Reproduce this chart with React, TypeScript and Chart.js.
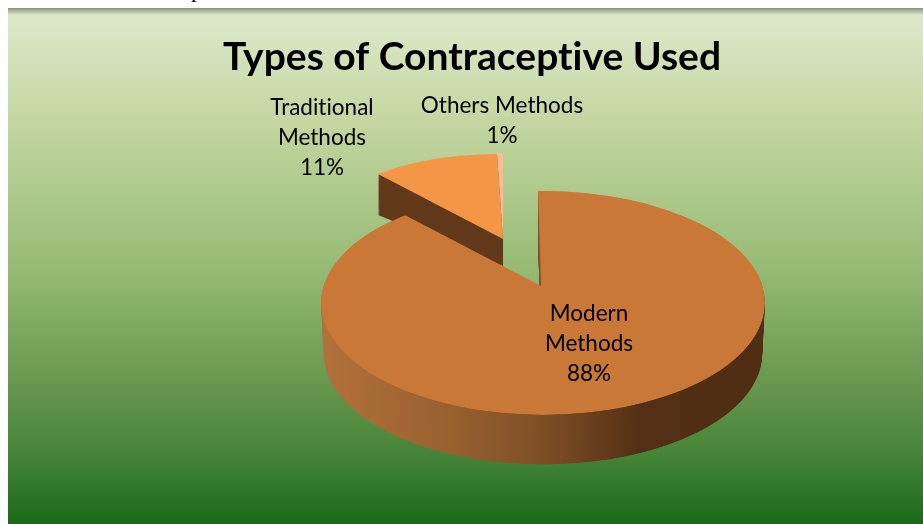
import React, { useEffect, useRef } from "react";
import { Chart, registerables } from "chart.js";

Chart.register(...registerables);

const categories = ["Traditional Methods", "Others Methods", "Modern Methods"];
const categoryLines = [["Traditional", "Methods"], ["Others Methods"], ["Modern", "Methods"]];
const percentages = [11, 1, 88];
const sliceColors = ["#F59647", "#FBBD98", "#C97837"];
const chartTitle = "Types of Contraceptive Used";

const W = 923;
const H = 524;
const SQUASH = 112 / 222;
const FONT = "Lato, Carlito, 'Open Sans', sans-serif";

const sideOpts = (fill: any) => ({
  offset: 0, spacing: 0, borderWidth: 0, backgroundColor: fill, borderColor: fill,
  borderAlign: "center", borderJoinStyle: "round", borderRadius: 0, circular: true,
  selfJoin: false, borderDash: [], borderDashOffset: 0,
});

function drawWith(arc: any, ctx: CanvasRenderingContext2D, fill: any) {
  const saved = arc.options;
  arc.options = sideOpts(fill);
  arc.draw(ctx);
  arc.options = saved;
}

const pie3d = {
  id: "pie3d",
  beforeDraw(chart: any) {
    const ctx: CanvasRenderingContext2D = chart.ctx;
    ctx.save();
    ctx.fillStyle = "#ffffff";
    ctx.fillRect(0, 0, W, H);
    const g = ctx.createLinearGradient(0, 9, 0, H);
    g.addColorStop(0, "#DFE9CE");
    g.addColorStop(0.2, "#C6D8A4");
    g.addColorStop(0.5, "#97BB74");
    g.addColorStop(0.72, "#69984F");
    g.addColorStop(0.86, "#478538");
    g.addColorStop(1, "#1B6A17");
    ctx.fillStyle = g;
    ctx.fillRect(8, 8, W - 8, H - 8);
    const s = ctx.createLinearGradient(0, 8, 0, 15);
    s.addColorStop(0, "rgba(90,100,80,0.65)");
    s.addColorStop(1, "rgba(90,100,80,0)");
    ctx.fillStyle = s;
    ctx.fillRect(8, 8, W - 8, 7);
    ctx.fillStyle = "#000";
    ctx.font = "24px 'Liberation Serif', serif";
    ctx.textAlign = "center";
    ctx.textBaseline = "alphabetic";
    ctx.fillText("p", 197, -3);
    ctx.restore();
  },
  beforeDatasetsDraw(chart: any) {
    const ctx: CanvasRenderingContext2D = chart.ctx;
    const arcs = chart.getDatasetMeta(0).data;
    const cx = arcs[0].x;
    const cy = arcs[0].y;
    const R = arcs[0].outerRadius;

    // exploded, foreshortened back slices: affine placement around their apex
    const apexX = 503, apexY = 239;
    const placement = [
      [0.85, 0.0266, -0.0397, 0.382],
      [0.431, -0.052, -0.0068, 0.388],
    ];
    const placeBack = (i: number) => {
      const [a, b, c, d] = placement[i];
      ctx.transform(a, b, c, d, apexX, apexY);
      ctx.translate(-cx, -cy);
    };
    [0, 1].forEach((i) => {
      for (let t = 1; t >= 0; t -= 0.025) {
        ctx.save();
        ctx.transform(1, (-t * 14) / 125, 0, 1, 0, t * (27 + (503 * 14) / 125));
        placeBack(i);
        drawWith(arcs[i], ctx, "#633A1C");
        ctx.restore();
      }
    });
    [0, 1].forEach((i) => {
      ctx.save();
      placeBack(i);
      drawWith(arcs[i], ctx, sliceColors[i]);
      ctx.restore();
    });

    // main slice: the second pass lifts the apex (perspective), clipped to the rim
    const main = arcs[2];
    const drawMain = (dy: number, sx: number, fill: any) => {
      ctx.save();
      ctx.beginPath();
      ctx.ellipse(cx, cy + dy, R * sx, R * SQUASH * sx, 0, 0, Math.PI * 2);
      ctx.clip();
      for (const [ox, oy] of [[0, 0], [-2, -17]]) {
        ctx.save();
        ctx.translate(cx + ox, cy + dy + oy);
        ctx.scale(sx, SQUASH * sx);
        ctx.translate(-cx, -cy);
        drawWith(main, ctx, fill);
        ctx.restore();
      }
      ctx.restore();
    };
    const side = ctx.createLinearGradient(cx - R, 0, cx + R, 0);
    side.addColorStop(0, "#B3713A");
    side.addColorStop(0.3, "#96602F");
    side.addColorStop(0.5, "#7E4F26");
    side.addColorStop(0.72, "#533015");
    side.addColorStop(1, "#4F2E14");
    for (let d = 51; d >= 1; d--) drawMain(d, 1 - 0.012 * (d / 51), side);
    drawMain(0, 1, sliceColors[2]);
    return false;
  },
  afterDraw(chart: any) {
    const ctx: CanvasRenderingContext2D = chart.ctx;
    const spots = [
      { x: 322, y: 108, lh: 30 },
      { x: 502, y: 106, lh: 30 },
      { x: 589, y: 314, lh: 30 },
    ];
    ctx.save();
    ctx.fillStyle = "#000";
    ctx.textAlign = "center";
    ctx.textBaseline = "middle";
    (ctx as any).letterSpacing = "0.01px";
    ctx.font = `22.5px ${FONT}`;
    categoryLines.forEach((lines, i) => {
      const all = [...lines, `${percentages[i]}%`];
      all.forEach((t, j) => ctx.fillText(t, spots[i].x, spots[i].y + j * spots[i].lh));
    });
    ctx.font = `bold 39px ${FONT}`;
    ctx.fillText(chartTitle, 472, 57);
    ctx.restore();
  },
};

export default function App() {
  const ref = useRef<HTMLCanvasElement>(null);
  useEffect(() => {
    const chart = new Chart(ref.current!, {
      type: "pie",
      data: {
        labels: categories,
        datasets: [{ data: percentages, backgroundColor: sliceColors, borderWidth: 0 }],
      },
      options: {
        animation: false,
        responsive: false,
        devicePixelRatio: 1,
        radius: 222,
        rotation: -44.1,
        layout: { padding: { left: 163, top: 82 } },
        plugins: { legend: { display: false }, tooltip: { enabled: false }, title: { display: false } },
      } as any,
      plugins: [pie3d as any],
    });
    return () => chart.destroy();
  }, []);
  return (
    <div style={{ position: "fixed", left: 0, top: 0, width: W, height: H }}>
      <canvas ref={ref} width={W} height={H} style={{ display: "block" }} />
    </div>
  );
}
